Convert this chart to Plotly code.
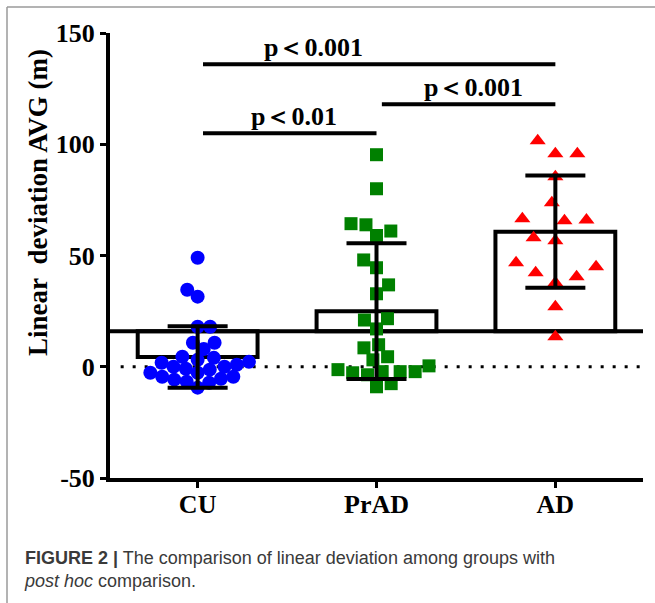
import math
import plotly.graph_objects as go

# ---------------- data ----------------
categories = ["CU", "PrAD", "AD"]
cu_values = [49, 34.6, 31.5, 18, 18, 10.8, 10.8, 8, 4.5, 3.1, 1.8, 0, 0, 0.9, 2.2, 4,
             -1.3, -2.7, -4.5, -5.4, -6.7, -9.4, -7.2, -5.8, -4.5, -2.7, -0.9]
prad_values = [95.3, 80, 63.8, 64.3, 59, 61, 48, 44.5, 36.8, 32.8, 21.6, 21, 17, 9.9, 8.5,
               3.1, 4.5, 0.4, -2.2, -2.2, -3.6, -2.7, -2.2, -1.3, -9, -7.6]
ad_values = [101.6, 95.7, 95.7, 85.4, 73.7, 66.5, 65.6, 66, 58, 56.6, 46.7, 42.2, 40.4,
             45, 37.8, 27, 13.5]
means = [4.4, 25, 60.7]
sds = [13.8, 30.5, 25.2]
bar_base = 16
sig_pairs = [(0, 2), (1, 2), (0, 1)]
sig_heights = [136, 118, 105]
sig_labels = ["p＜0.001", "p＜0.001", "p＜0.01"]
y_ticks = [-50, 0, 50, 100, 150]

# ---------------- layout constants ----------------
W, H = 655, 603
ML, MR, MT, MB = 110, 12, 33, 125
XR = [-0.49, 2.49]
YR = [-50, 150]
PW, PH = W - ML - MR, H - MT - MB
px_x = PW / (XR[1] - XR[0])
px_y = PH / (YR[1] - YR[0])

serif = "Liberation Serif, Times New Roman, serif"


def swarm(values, d_px):
    """Greedy beeswarm layout: returns horizontal offsets (in x-axis units)."""
    order = sorted(range(len(values)), key=lambda i: values[i])
    placed = []
    offs = [0.0] * len(values)
    toggle = True
    for i in order:
        y = values[i] * px_y
        cands = [0.0]
        intervals = []
        for xp, yp in placed:
            dy = abs(y - yp)
            if dy < d_px:
                dx = math.sqrt(d_px ** 2 - dy ** 2)
                intervals.append((xp - dx, xp + dx))
                cands += [xp - dx, xp + dx]
        valid = [c for c in cands if all(not (a + 1e-6 < c < b - 1e-6) for a, b in intervals)]
        m = min(abs(c) for c in valid)
        choices = [c for c in valid if abs(abs(c) - m) < 1e-6]
        if len(choices) > 1:
            best = max(choices) if toggle else min(choices)
            toggle = not toggle
        else:
            best = choices[0]
        placed.append((best, y))
        offs[i] = best / px_x
    return offs


groups = [
    (cu_values, dict(symbol="circle", size=14, color="#0000ff"), 12.5),
    (prad_values, dict(symbol="square", size=13, color="#008000"), 15),
    (ad_values, dict(symbol="triangle-up", size=14, color="#ff0000"), 22),
]

fig = go.Figure()

# bars (floating from base)
fig.add_trace(go.Bar(
    x=list(range(len(categories))), y=[m - bar_base for m in means], base=bar_base,
    width=0.67, marker=dict(color="rgba(0,0,0,0)", line=dict(color="black", width=4)),
    showlegend=False, hoverinfo="skip"))

for gi, (vals, mk, d) in enumerate(groups):
    offs = swarm(vals, d)
    fig.add_trace(go.Scatter(
        x=[gi + o for o in offs], y=vals, mode="markers",
        marker=dict(symbol=mk["symbol"], size=mk["size"], color=mk["color"], line=dict(width=0)),
        showlegend=False))

# mean +/- SD error bars
fig.add_trace(go.Scatter(
    x=list(range(len(categories))), y=means, mode="markers",
    marker=dict(size=1, color="rgba(0,0,0,0)"),
    error_y=dict(type="data", array=sds, visible=True, thickness=4, width=30, color="black"),
    showlegend=False))

shapes = [
    dict(type="line", xref="paper", yref="y", x0=0, x1=1, y0=bar_base, y1=bar_base,
         line=dict(color="black", width=4), layer="below"),
    dict(type="line", xref="paper", yref="y", x0=0.02, x1=1, y0=0, y1=0,
         line=dict(color="black", width=3, dash="3px,9px"), layer="below"),
]
for (a, b), h in zip(sig_pairs, sig_heights):
    shapes.append(dict(type="line", xref="x", yref="y", x0=a + 0.03, x1=b, y0=h, y1=h,
                       line=dict(color="black", width=4)))

# figure frame (left and top border)
fx = (7 - ML) / PW
fy = (H - MB - 7) / PH
shapes.append(dict(type="line", xref="paper", yref="paper", x0=fx, x1=fx, y0=-0.4, y1=fy,
                   line=dict(color="#9a9a9a", width=1.5)))
shapes.append(dict(type="line", xref="paper", yref="paper", x0=fx, x1=1.1, y0=fy, y1=fy,
                   line=dict(color="#9a9a9a", width=1.5)))

sig_label_x = [0.65, 1.54, 0.54]
annotations = []
for lx, h, lab in zip(sig_label_x, sig_heights, sig_labels):
    annotations.append(dict(x=lx, y=h, xref="x", yref="y", text="<b>" + lab + "</b>",
                            showarrow=False, yanchor="bottom", yshift=0,
                            font=dict(family=serif, size=26, color="black")))

annotations.append(dict(x=(38 - ML) / PW, y=(H - MB - 203) / PH, xref="paper", yref="paper",
                        xanchor="center", yanchor="middle",
                        text="<b>Linear\u00a0 deviation AVG (m)</b>", textangle=-90,
                        showarrow=False, font=dict(family=serif, size=27, color="black")))

annotations.append(dict(x=(22 - ML) / PW, y=(H - MB - 569) / PH, xref="paper", yref="paper",
                        xanchor="left", yanchor="middle", align="left", showarrow=False,
                        text="<b>FIGURE 2 |</b> The comparison of linear deviation among groups with<br>"
                             "<i>post hoc</i> comparison.",
                        font=dict(family="Liberation Sans, Arial, sans-serif", size=18, color="#3a3a3a")))

fig.update_layout(
    width=W, height=H, margin=dict(l=ML, r=MR, t=MT, b=MB),
    paper_bgcolor="white", plot_bgcolor="white",
    shapes=shapes, annotations=annotations, showlegend=False,
    xaxis=dict(range=XR, tickvals=list(range(len(categories))), ticktext=["<b>%s</b>" % c for c in categories],
               showline=True, linewidth=4, linecolor="black", ticks="outside", ticklen=6,
               tickwidth=3, tickcolor="black", showgrid=False, zeroline=False,
               ticklabelstandoff=-6,
               tickfont=dict(family=serif, size=26, color="black")),
    yaxis=dict(range=YR, tickvals=y_ticks, ticktext=["<b>%d</b>" % v for v in y_ticks],
               showline=True, linewidth=4, linecolor="black", ticks="outside", ticklen=6,
               tickwidth=3, tickcolor="black", showgrid=False, zeroline=False,
               tickfont=dict(family=serif, size=26, color="black")),
)

fig.write_html("out.html", config={"displayModeBar": False},
               post_script="document.body.style.margin='0';")
